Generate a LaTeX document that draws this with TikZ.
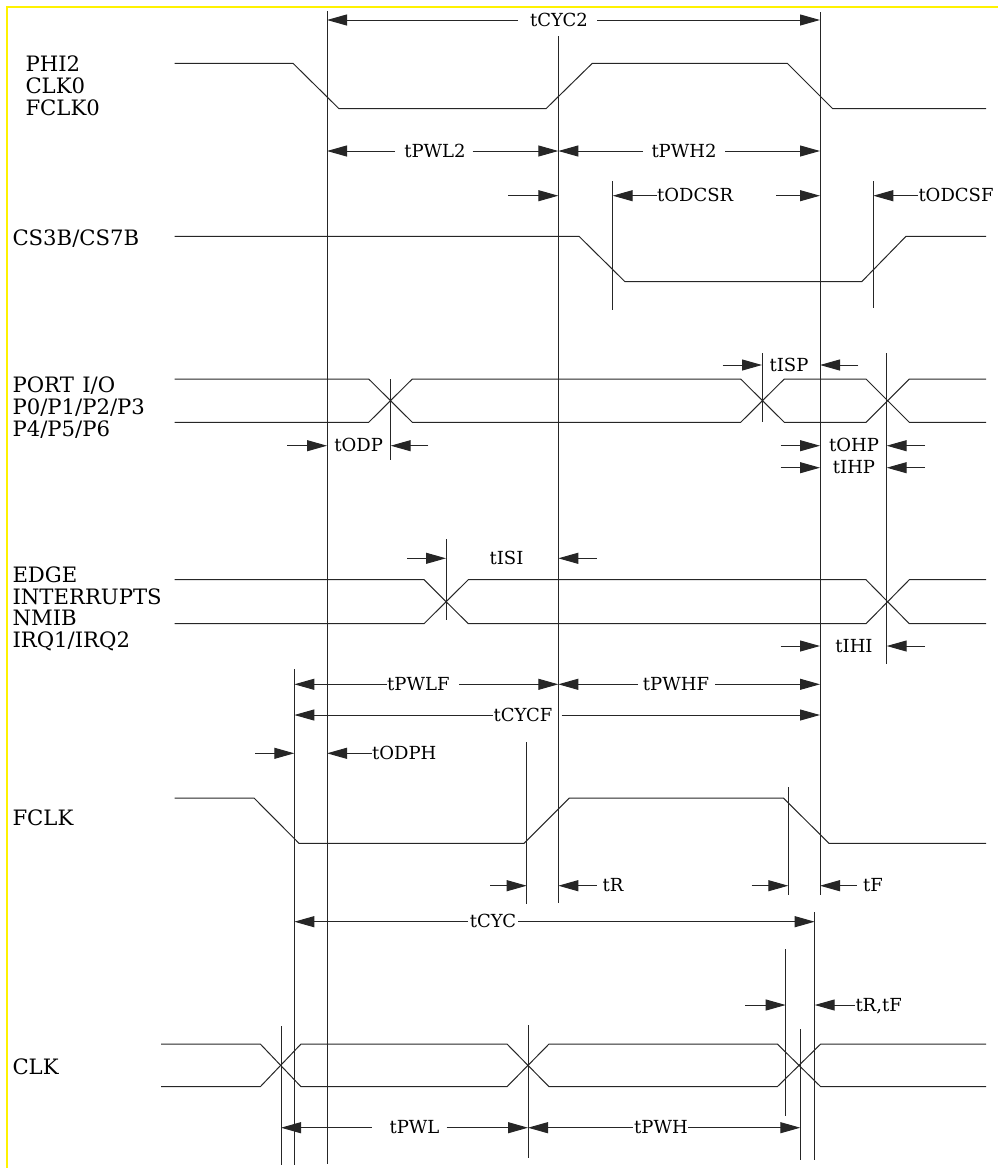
\documentclass[tikz,border=0pt]{standalone}
\usepackage{fontspec}
\setmainfont{DejaVu Serif}
\usetikzlibrary{arrows.meta}
\begin{document}
\begin{tikzpicture}[x=0.5pt,y=-0.5pt,line width=0.5pt,black!85,
  ar/.style={-{Triangle[length=10pt,width=5.5pt]}},
  sl/.style={font=\fontsize{10.6}{12}\selectfont,anchor=base west,inner sep=0pt,text=black},
  tlc/.style={font=\fontsize{9}{10}\selectfont,anchor=base,inner sep=0pt,text=black},
  tlw/.style={font=\fontsize{9}{10}\selectfont,anchor=base west,inner sep=0pt,text=black}]
\useasboundingbox (0,0) rectangle (998,1168);
\draw[yellow,line width=1pt] (6.5,1168) -- (6.5,6.5) -- (998,6.5);
% signal labels
\node[sl] (l1) at (25,71.7) {PHI2};
\node[sl] (l2) at (25,93.3) {CLK0};
\node[sl] (l3) at (25,115) {FCLK0};
\node[sl] (l4) at (12,245) {CS3B/CS7B};
\node[sl] (l5) at (12,392.7) {PORT\hspace{0.4em}I/O};
\node[sl] (l6) at (12,414.3) {P0/P1/P2/P3};
\node[sl] (l7) at (12,436) {P4/P5/P6};
\node[sl] (l8) at (12,582.7) {EDGE};
\node[sl] (l9) at (12,604) {INTERRUPTS};
\node[sl] (l10) at (12,625.7) {NMIB};
\node[sl] (l11) at (12,647.3) {IRQ1/IRQ2};
\node[sl] (l12) at (12,825) {FCLK};
\node[sl] (l13) at (12,1074.3) {CLK};
% waveforms
\draw (174.7,63.3)--(293,63.3)--(339,108.7)--(546,108.7)--(592.3,63.3)--(787.3,63.3)--(832.7,108.7)--(986,108.7);
\draw (174.7,236.3)--(579,236.3)--(625,281.7)--(861.7,281.7)--(906,236.3)--(986,236.3);
\draw (174.7,379)--(368.7,379)--(412.3,422.3)--(740.7,422.3)--(784.3,379)--(866,379)--(909.3,422.3)--(986,422.3);
\draw (174.7,422.3)--(368.7,422.3)--(412.3,379)--(740.7,379)--(784.3,422.3)--(866,422.3)--(909.3,379)--(986,379);
\draw (174.7,579.7)--(424,579.7)--(468.3,623.7)--(866,623.7)--(909.3,579.7)--(986,579.7);
\draw (174.7,623.7)--(424,623.7)--(468.3,579.7)--(866,579.7)--(909.3,623.7)--(986,623.7);
\draw (174.7,798)--(254,798)--(299,843.3)--(524,843.3)--(569.3,798)--(783.3,798)--(829,843.3)--(986,843.3);
\draw (161,1044)--(260.3,1044)--(301,1086.7)--(507,1086.7)--(549,1044)--(777.3,1044)--(820.7,1086.7)--(986,1086.7);
\draw (161,1086.7)--(260.3,1086.7)--(301,1044)--(507,1044)--(549,1086.7)--(777.3,1086.7)--(820.7,1044)--(986,1044);
% vertical reference lines
\draw (327,11)--(327,1164);
\draw (558.3,36)--(558.3,903);
\draw (820,12)--(820,895);
\draw (612.7,181)--(612.7,310);
\draw (873.3,181)--(873.3,308);
\draw (390.7,379)--(390.7,460);
\draw (762,353)--(762,422);
\draw (886.7,353)--(886.7,664);
\draw (446,539)--(446,620);
\draw (294.3,669)--(294.3,1165);
\draw (526.7,742)--(526.7,904);
\draw (788.3,787)--(788.3,895);
\draw (814.7,912)--(814.7,1160);
\draw (281,1026)--(281,1165);
\draw (528,1025)--(528,1158);
\draw (785.7,949)--(785.7,1116);
\draw (800.3,1029)--(800.3,1160);
% tCYC2
\draw[ar] (518,20)--(327,20);
\node[tlc] (tcyc2) at (559,26) {tCYC2};
\draw[ar] (597,20)--(820,20);
% tPWL2 / tPWH2
\draw[ar] (395,151)--(327,151);
\node[tlc] (tpwl2) at (435,157) {tPWL2};
\draw[ar] (472.7,151)--(558.3,151);
\draw[ar] (643,151)--(558.3,151);
\node[tlc] (tpwh2) at (684,157) {tPWH2};
\draw[ar] (725,151)--(820,151);
% tODCSR / tODCSF
\draw[ar] (508,195.7)--(558.3,195.7);
\draw[ar] (656.7,195.7)--(612.7,195.7);
\node[tlw] (todcsr) at (656.7,201.7) {tODCSR};
\draw[ar] (776,195.7)--(820,195.7);
\draw[ar] (918,195.7)--(873.3,195.7);
\node[tlw] (todcsf) at (918,201.7) {tODCSF};
% tISP
\draw[ar] (722.7,365)--(762,365);
\node[tlc] (tisp) at (789,371) {tISP};
\draw[ar] (858.3,365)--(820,365);
% tODP
\draw[ar] (287.3,445.7)--(327,445.7);
\node[tlc] (todp) at (358.7,451.7) {tODP};
\draw[ar] (428.3,445.7)--(390.7,445.7);
% tOHP / tIHP
\draw[ar] (780.7,445.7)--(820,445.7);
\node[tlc] (tohp) at (854,451.7) {tOHP};
\draw[ar] (925,445.7)--(886.7,445.7);
\draw[ar] (780.7,467.7)--(820,467.7);
\node[tlc] (tihp) at (854,473.7) {tIHP};
\draw[ar] (925,467.7)--(886.7,467.7);
% tISI
\draw[ar] (407.3,558.3)--(446,558.3);
\node[tlc] (tisi) at (506.5,564.3) {tISI};
\draw[ar] (596.7,558.3)--(558.3,558.3);
% tIHI
\draw[ar] (780.7,646)--(820,646);
\node[tlc] (tihi) at (854,652) {tIHI};
\draw[ar] (925,646)--(886.7,646);
% tPWLF / tPWHF
\draw[ar] (386.7,684.3)--(294.3,684.3);
\node[tlw] (tpwlf) at (386.7,690.3) {tPWLF};
\draw[ar] (459.3,684.3)--(558.3,684.3);
\draw[ar] (638,684.3)--(558.3,684.3);
\node[tlc] (tpwhf) at (676,690.3) {tPWHF};
\draw[ar] (715,684.3)--(820,684.3);
% tCYCF
\draw[ar] (492.7,715)--(294.3,715);
\node[tlc] (tcycf) at (523,721) {tCYCF};
\draw[ar] (561.7,715)--(820,715);
% tODPH
\draw[ar] (255,753.3)--(294.3,753.3);
\draw[ar] (371.7,753.3)--(327,753.3);
\node[tlw] (todph) at (371.7,759.3) {tODPH};
% tR / tF
\draw[ar] (490,885.7)--(526.7,885.7);
\draw[ar] (596.7,885.7)--(558.3,885.7);
\node[tlc] (tr) at (613,891.7) {tR};
\draw[ar] (751.7,885.7)--(788.3,885.7);
\draw[ar] (856.7,885.7)--(820,885.7);
\node[tlc] (tf) at (873,891.7) {tF};
% tCYC
\draw[ar] (468,921.7)--(294.3,921.7);
\node[tlc] (tcyc) at (493,927.7) {tCYC};
\draw[ar] (518,921.7)--(814.7,921.7);
% tR,tF
\draw[ar] (745,1005)--(785.7,1005);
\draw[ar] (855,1005)--(814.7,1005);
\node[tlw] (trtf) at (855,1011) {tR,tF};
% tPWL / tPWH
\draw[ar] (371.7,1127.7)--(281,1127.7);
\node[tlc] (tpwl) at (414.5,1133.7) {tPWL};
\draw[ar] (446.7,1127.7)--(528,1127.7);
\draw[ar] (633,1127.7)--(528,1127.7);
\node[tlc] (tpwh) at (661,1133.7) {tPWH};
\draw[ar] (688,1127.7)--(800.3,1127.7);
\end{tikzpicture}
\end{document}
